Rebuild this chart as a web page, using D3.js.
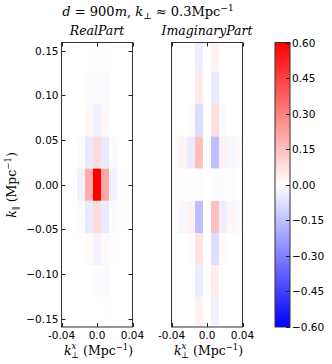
<!DOCTYPE html>
<html>
<head>
<meta charset="utf-8">
<script src="https://cdn.jsdelivr.net/npm/d3@7"></script>
<style>
  body { margin: 0; background: #fff; }
  svg { display: block; }
  .tick-label { font-family: "DejaVu Sans", sans-serif; font-size: 10.5px; fill: #000; }
  .math { font-family: "DejaVu Serif", serif; fill: #000; }
</style>
</head>
<body>
<svg id="chart" width="332" height="364"></svg>
<script>
// grid centres (Mpc^-1)
const kxCentres = [-0.036, -0.027, -0.018, -0.009, 0, 0.009, 0.018, 0.027, 0.036];
const kparCentres = [0.144, 0.108, 0.072, 0.036, 0, -0.036, -0.072, -0.108, -0.144];

// rows follow kparCentres (top to bottom), columns follow kxCentres
const realValues = [
  [0, 0, 0, 0.003, 0.005, 0.004, 0, 0, 0],
  [0, 0, 0, -0.008, -0.012, -0.01, 0, 0, 0],
  [0, 0, 0, 0.018, -0.035, 0.02, 0, 0, 0],
  [0, 0, -0.01, -0.05, 0.08, -0.05, -0.01, 0, 0],
  [0, 0, -0.03, 0.19, 0.62, 0.21, -0.03, 0.005, 0],
  [0, 0.005, -0.012, -0.05, 0.08, -0.05, -0.012, 0.005, 0],
  [0, 0, 0.004, 0.015, -0.03, 0.015, 0.004, 0, 0],
  [0, 0, 0, 0, -0.006, -0.012, 0, 0, 0],
  [0, 0, 0, 0, 0, 0.004, 0, 0, 0]
];

const imagValues = [
  [0, 0, 0, -0.04, 0, 0.03, 0, 0, 0],
  [0, 0, 0, 0.05, 0, -0.05, 0, 0, 0],
  [0, 0, 0.01, -0.08, 0, 0.08, -0.01, 0, 0],
  [-0.01, 0.025, -0.045, 0.15, 0, -0.15, 0.03, -0.02, 0.015],
  [0, 0.004, 0.004, 0.006, 0, -0.006, -0.004, -0.004, 0],
  [0.01, -0.02, 0.03, -0.15, 0, 0.15, -0.04, 0.02, -0.01],
  [0, 0, 0.008, 0.07, 0, -0.08, 0.01, 0, 0],
  [0, 0, 0, -0.045, 0, 0.045, 0, 0, 0],
  [0, 0, 0, 0.03, 0, -0.03, 0, 0, 0]
];

const yTicks = [0.15, 0.10, 0.05, 0.00, -0.05, -0.10, -0.15];
const xTicks = [-0.04, 0.0, 0.04];
const xTickLabels = ["-0.04", "0.0", "0.04"];
const cbarTicks = [0.60, 0.45, 0.30, 0.15, 0.00, -0.15, -0.30, -0.45, -0.60];

const dkx = 0.009, dkpar = 0.036;
const vmax = 0.6;

const svg = d3.select('#chart');
const plotTop = 42.5, plotBottom = 327;
const fmtMinus = v => (v < 0 ? '\u2212' : '') + Math.abs(v).toFixed(2);

const color = d3.scaleLinear()
  .domain([-vmax, 0, vmax])
  .range(['#0000ff', '#ffffff', '#ff0000'])
  .clamp(true);

const y = d3.scaleLinear().domain([-0.159, 0.159]).range([plotBottom, plotTop]);

const defs = svg.append('defs');

function drawPanel(id, left, right, values, showY) {
  const x = d3.scaleLinear().domain([-0.04, 0.04]).range([left, right]);

  defs.append('clipPath').attr('id', id)
    .append('rect')
    .attr('x', left).attr('y', plotTop)
    .attr('width', right - left).attr('height', plotBottom - plotTop);

  const g = svg.append('g').attr('clip-path', `url(#${id})`);
  const cells = [];
  values.forEach((row, i) => row.forEach((v, j) => {
    cells.push({ kx: kxCentres[j], kp: kparCentres[i], v });
  }));

  g.selectAll('rect.cell')
    .data(cells)
    .join('rect')
    .attr('class', 'cell')
    .attr('x', d => x(d.kx - dkx / 2))
    .attr('y', d => y(d.kp + dkpar / 2))
    .attr('width', d => x(d.kx + dkx / 2) - x(d.kx - dkx / 2))
    .attr('height', d => y(d.kp - dkpar / 2) - y(d.kp + dkpar / 2))
    .attr('fill', d => color(d.v));

  // ticks, pointing inwards on all sides
  const tk = svg.append('g').attr('stroke', '#222').attr('stroke-width', 1);
  xTicks.forEach(t => {
    const px = Math.round(x(t)) + 0.5;
    tk.append('line').attr('x1', px).attr('x2', px).attr('y1', plotBottom).attr('y2', plotBottom - 4);
    tk.append('line').attr('x1', px).attr('x2', px).attr('y1', plotTop).attr('y2', plotTop + 4);
  });
  if (showY) {
    yTicks.forEach(t => {
      const py = Math.round(y(t)) + 0.5;
      tk.append('line').attr('x1', left).attr('x2', left + 4).attr('y1', py).attr('y2', py);
      tk.append('line').attr('x1', right).attr('x2', right - 4).attr('y1', py).attr('y2', py);
      svg.append('text').attr('class', 'tick-label')
        .attr('x', left - 3).attr('y', py).attr('dy', '0.35em')
        .attr('text-anchor', 'end')
        .text(fmtMinus(t));
    });
  }

  svg.append('rect')
    .attr('x', left).attr('y', plotTop)
    .attr('width', right - left).attr('height', plotBottom - plotTop)
    .attr('fill', 'none').attr('stroke', '#333').attr('stroke-width', 1);

  xTicks.forEach((t, i) => {
    svg.append('text').attr('class', 'tick-label')
      .attr('x', x(t)).attr('y', 339)
      .attr('text-anchor', 'middle')
      .text(xTickLabels[i]);
  });

  // x label: k_perp^x (Mpc^-1)
  const cx = x(0);
  const xl = svg.append('g').attr('transform', `translate(${cx - 33},355)`);
  xl.append('text').attr('class', 'math').attr('font-size', 12.5).attr('font-style', 'italic').text('k');
  xl.append('text').attr('class', 'math').attr('x', 7).attr('y', 3).attr('font-size', 8.5).text('\u22a5');
  xl.append('text').attr('class', 'math').attr('x', 7.5).attr('y', -6).attr('font-size', 8.5).attr('font-style', 'italic').text('x');
  const unit = xl.append('text').attr('class', 'math').attr('x', 19).attr('font-size', 12.5);
  unit.append('tspan').text('(Mpc');
  unit.append('tspan').attr('font-size', 8.5).attr('dy', -5).text('\u22121');
  unit.append('tspan').attr('dy', 5).text(')');

  return x;
}

const xReal = drawPanel('clip-real', 61.5, 132.5, realValues, true);
const xImag = drawPanel('clip-imag', 171.5, 242.5, imagValues, false);

// subplot titles
svg.append('text').attr('class', 'math').attr('font-size', 12.5).attr('font-style', 'italic')
  .attr('x', xReal(0)).attr('y', 35).attr('text-anchor', 'middle').text('RealPart');
svg.append('text').attr('class', 'math').attr('font-size', 12.5).attr('font-style', 'italic')
  .attr('x', xImag(0)).attr('y', 35).attr('text-anchor', 'middle').text('ImaginaryPart');

// main title
const title = svg.append('text').attr('class', 'math').attr('font-size', 13)
  .attr('x', 148).attr('y', 16).attr('text-anchor', 'middle');
title.append('tspan').attr('font-style', 'italic').text('d');
title.append('tspan').text(' = 900');
title.append('tspan').attr('font-style', 'italic').text('m');
title.append('tspan').text(', ');
title.append('tspan').attr('font-style', 'italic').text('k');
title.append('tspan').attr('font-size', 9).attr('dy', 3).text('\u22a5');
title.append('tspan').attr('dy', -3).text(' \u2248 0.3Mpc');
title.append('tspan').attr('font-size', 9).attr('dy', -5).text('\u22121');

// y label: k_par (Mpc^-1)
const yl = svg.append('g').attr('transform', 'translate(16,185) rotate(-90)');
const ylt = yl.append('text').attr('class', 'math').attr('font-size', 12.5).attr('text-anchor', 'middle');
ylt.append('tspan').attr('font-style', 'italic').text('k');
ylt.append('tspan').attr('font-size', 8.5).attr('dy', 3).text('\u2225');
ylt.append('tspan').attr('dy', -3).text(' (Mpc');
ylt.append('tspan').attr('font-size', 8.5).attr('dy', -5).text('\u22121');
ylt.append('tspan').attr('dy', 5).text(')');

// colorbar
const cbLeft = 275, cbRight = 290;
const cy = d3.scaleLinear().domain([-vmax, vmax]).range([plotBottom, plotTop]);
const grad = defs.append('linearGradient').attr('id', 'cbar-grad')
  .attr('x1', 0).attr('y1', 1).attr('x2', 0).attr('y2', 0);
d3.range(0, 1.0001, 0.05).forEach(f => {
  grad.append('stop').attr('offset', f).attr('stop-color', color(-vmax + f * 2 * vmax));
});
svg.append('rect')
  .attr('x', cbLeft).attr('y', plotTop)
  .attr('width', cbRight - cbLeft).attr('height', plotBottom - plotTop)
  .attr('fill', 'url(#cbar-grad)')
  .attr('stroke', '#333').attr('stroke-width', 1);
cbarTicks.forEach(t => {
  const py = Math.round(cy(t)) + 0.5;
  svg.append('line').attr('x1', cbRight).attr('x2', cbRight - 4)
    .attr('y1', py).attr('y2', py).attr('stroke', '#222');
  svg.append('text').attr('class', 'tick-label')
    .attr('x', cbRight + 2).attr('y', py).attr('dy', '0.35em')
    .text(fmtMinus(t));
});
</script>
</body>
</html>
